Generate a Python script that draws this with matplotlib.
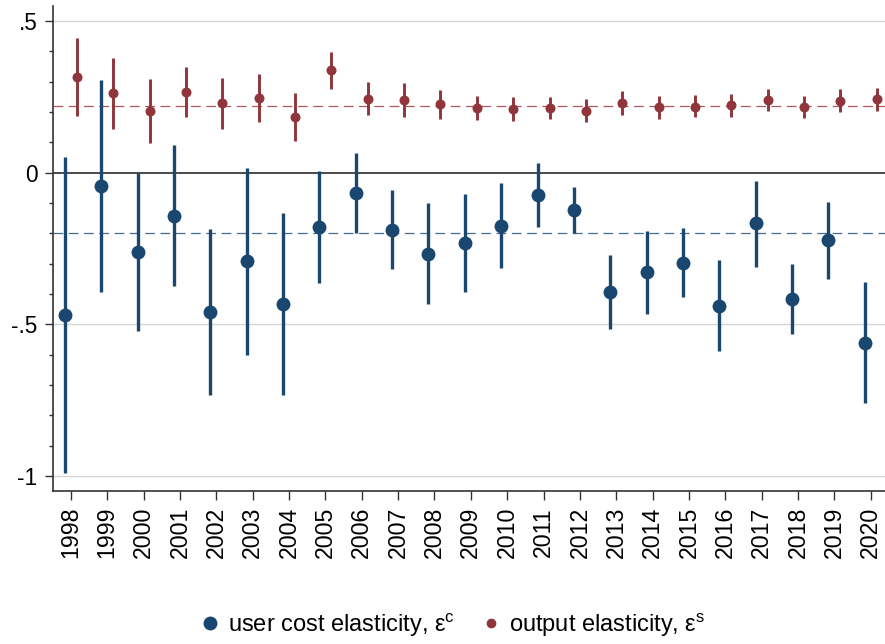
import matplotlib
matplotlib.use("Agg")
import matplotlib.pyplot as plt
from matplotlib.lines import Line2D
import numpy as np

plt.rcParams['font.family'] = ['Liberation Sans', 'DejaVu Sans']
plt.rcParams['mathtext.fontset'] = 'custom'
plt.rcParams['mathtext.rm'] = 'Liberation Sans'
plt.rcParams['mathtext.it'] = 'Liberation Sans'
plt.rcParams['lines.scale_dashes'] = False

years = list(range(1998, 2021))

# user cost elasticity: point estimate and 95% CI bounds
uc_est = [-0.469, -0.043, -0.260, -0.142, -0.459, -0.292, -0.433, -0.179, -0.066, -0.188,
          -0.266, -0.233, -0.175, -0.072, -0.122, -0.393, -0.327, -0.296, -0.438, -0.167,
          -0.416, -0.222, -0.560]
uc_hi = [0.051, 0.306, 0.000, 0.091, -0.186, 0.017, -0.134, 0.006, 0.064, -0.058,
         -0.100, -0.070, -0.034, 0.034, -0.048, -0.271, -0.191, -0.181, -0.288, -0.027,
         -0.301, -0.096, -0.359]
uc_lo = [-0.991, -0.392, -0.521, -0.374, -0.733, -0.601, -0.733, -0.363, -0.197, -0.317,
         -0.431, -0.394, -0.314, -0.178, -0.197, -0.516, -0.464, -0.410, -0.589, -0.310,
         -0.533, -0.350, -0.760]

# output elasticity: point estimate and 95% CI bounds
out_est = [0.317, 0.262, 0.204, 0.268, 0.230, 0.247, 0.184, 0.338, 0.245, 0.240,
           0.226, 0.213, 0.210, 0.214, 0.204, 0.230, 0.216, 0.218, 0.222, 0.240,
           0.217, 0.237, 0.242]
out_hi = [0.446, 0.378, 0.309, 0.349, 0.313, 0.326, 0.262, 0.397, 0.301, 0.297,
          0.273, 0.253, 0.249, 0.251, 0.242, 0.269, 0.252, 0.255, 0.261, 0.276,
          0.254, 0.275, 0.280]
out_lo = [0.187, 0.145, 0.099, 0.185, 0.146, 0.167, 0.106, 0.278, 0.190, 0.183,
          0.179, 0.174, 0.171, 0.177, 0.166, 0.190, 0.179, 0.183, 0.185, 0.203,
          0.181, 0.200, 0.204]

uc_ref = -0.2     # reference level for user cost elasticity
out_ref = 0.219   # average output elasticity

yticks = [-1, -0.5, 0, 0.5]
ytick_labels = ['-1', '-.5', '0', '.5']

navy = '#1a476f'
maroon = '#90353b'

W, H = 885, 644
fig = plt.figure(figsize=(W / 100, H / 100), dpi=100)
ax = fig.add_axes([52.7 / W, (H - 491) / H, (885 - 52.7) / W, (491 - 6) / H])

yr = np.array(years, dtype=float)
off = 0.165

# gridlines and reference lines
for v in yticks:
    if v != 0:
        ax.axhline(v, color='#d4d4d4', lw=1.0, zorder=0)
ax.axhline(0, color='#3c3c3c', lw=1.3, zorder=1)
ax.axhline(uc_ref, color=navy, lw=0.9, alpha=0.8, dashes=(7, 4), zorder=1)
ax.axhline(out_ref, color='#a23a42', lw=0.9, alpha=0.85, dashes=(7, 4), zorder=1)

# confidence intervals
ax.vlines(yr - off, uc_lo, uc_hi, color=navy, lw=2.4, zorder=2)
ax.vlines(yr + off, out_lo, out_hi, color=maroon, lw=2.1, zorder=2)

# point estimates
ax.plot(yr - off, uc_est, 'o', color=navy, ms=10, mew=0, zorder=3)
ax.plot(yr + off, out_est, 'o', color=maroon, ms=7.2, mew=0, zorder=3)

ax.set_xlim(1997.5, 2020.39)
ax.set_ylim(-1.049, 0.55)

ax.set_xticks(years)
ax.set_xticklabels([str(y) for y in years], rotation=90, fontsize=16.7)
ax.set_yticks(yticks)
ax.set_yticklabels(ytick_labels, fontsize=16.3)
ax.set_yticks(np.arange(-1.0, 0.55, 0.1), minor=True)
ax.tick_params(axis='y', which='major', length=6, width=1, color='#333333', pad=5)
ax.tick_params(axis='y', which='minor', length=3.2, width=1, color='#333333')
ax.tick_params(axis='x', which='major', length=6.5, width=1, color='#333333', pad=5)

for s in ['top', 'right']:
    ax.spines[s].set_visible(False)
for s in ['left', 'bottom']:
    ax.spines[s].set_color('#333333')
    ax.spines[s].set_linewidth(1.2)

handles = [
    Line2D([], [], marker='o', ls='none', color=navy, ms=10, mew=0),
    Line2D([], [], marker='o', ls='none', color=maroon, ms=7, mew=0),
]
labels = [r'user cost elasticity, ε$^{\mathrm{c}}$', r'output elasticity, ε$^{\mathrm{s}}$']
fig.legend(handles, labels, loc='center', bbox_to_anchor=(452 / W, 1 - 625 / H),
           ncol=2, frameon=False, fontsize=17, handletextpad=0.25, columnspacing=1.05,
           handlelength=1.0)

fig.savefig('out.png', dpi=100)
